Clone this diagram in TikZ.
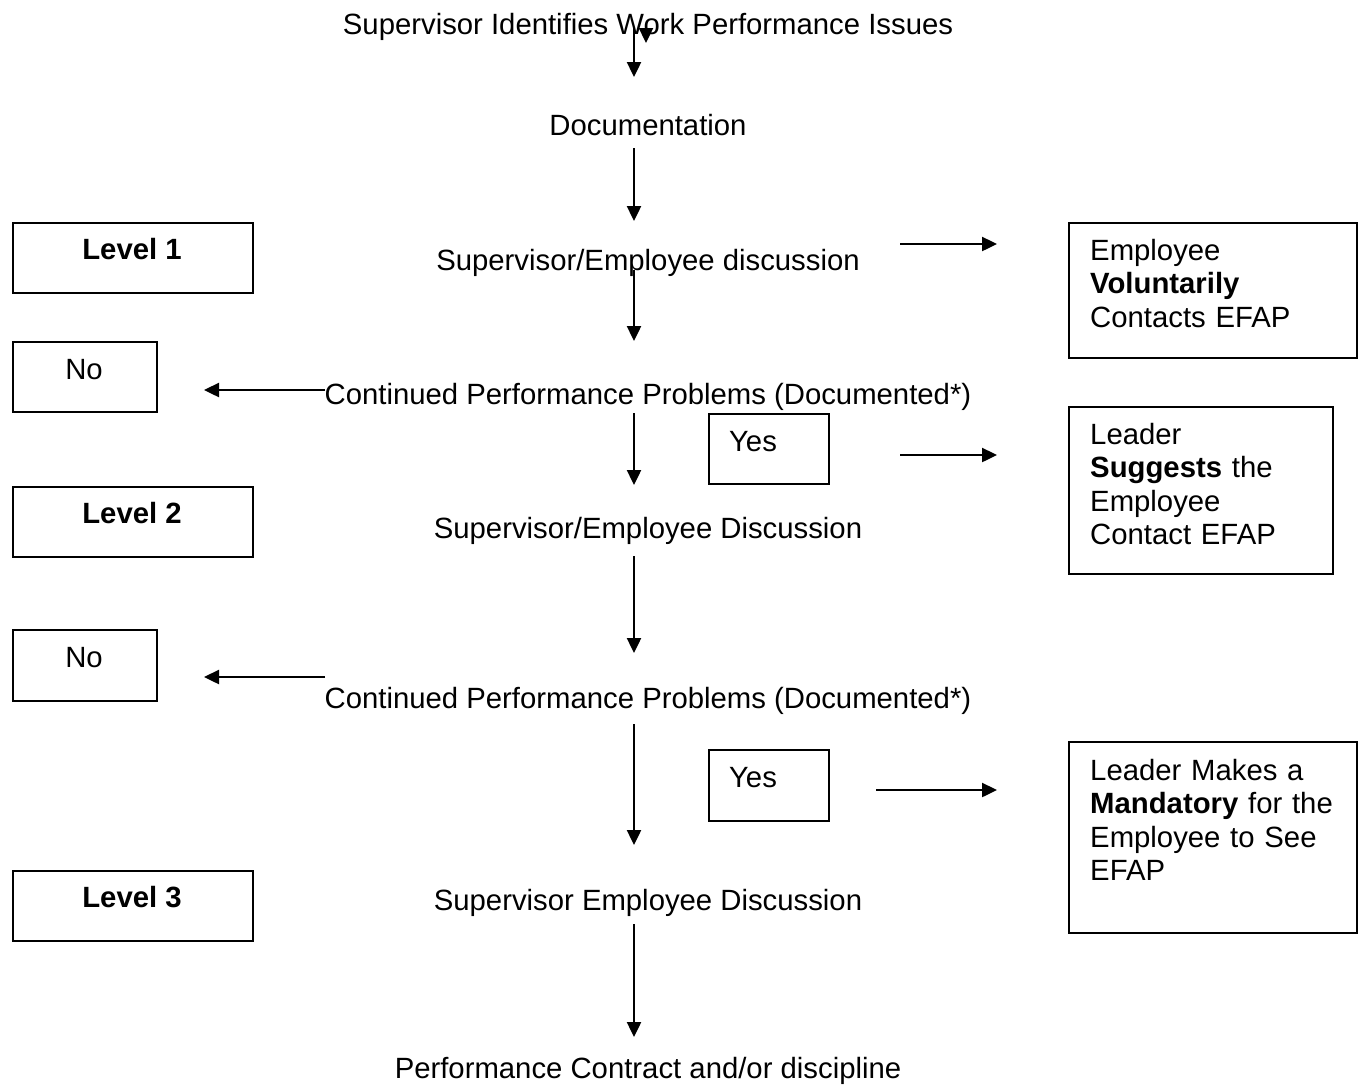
\documentclass[tikz,border=0pt]{standalone}
\usepackage{fontspec}
\setmainfont{Liberation Sans}
\usetikzlibrary{arrows.meta}
\begin{document}
\begin{tikzpicture}[x=1pt,y=-1pt,
  box/.style={draw, line width=1.6pt, inner sep=0pt, anchor=north west},
  lbl/.style={font=\fontsize{29.3}{33.5}\selectfont, inner sep=0pt, anchor=base},
  multi/.style={font=\fontsize{29.3}{33.5}\selectfont, inner sep=0pt, anchor=base west, text width=262pt, align=left},
  arr/.style={line width=2.4pt, -{Triangle[length=15pt,width=14pt]}}]
\useasboundingbox (0,0) rectangle (1362,1085);
% main column texts
\node[lbl] (t1) at (648,34) {Supervisor Identifies Work Performance Issues};
\node[lbl] (t2) at (648,135) {Documentation};
\node[lbl] (t3) at (648,270) {Supervisor/Employee discussion};
\node[lbl] (t4) at (648,404) {Continued Performance Problems (Documented*)};
\node[lbl] (t5) at (648,538) {Supervisor/Employee Discussion};
\node[lbl] (t6) at (648,708) {Continued Performance Problems (Documented*)};
\node[lbl] (t7) at (648,910) {Supervisor Employee Discussion};
\node[lbl] (t8) at (648,1078) {Performance Contract and/or discipline};
% level boxes
\node[box, minimum width=240pt, minimum height=70pt] (l1) at (12,222) {};
\node[lbl] (l1t) at (132,259) {\bfseries Level 1};
\node[box, minimum width=240pt, minimum height=70pt] (l2) at (12,486) {};
\node[lbl] (l2t) at (132,523) {\bfseries Level 2};
\node[box, minimum width=240pt, minimum height=70pt] (l3) at (12,870) {};
\node[lbl] (l3t) at (132,907) {\bfseries Level 3};
% no boxes
\node[box, minimum width=144pt, minimum height=70pt] (n1) at (12,341) {};
\node[lbl] (n1t) at (84,379) {No};
\node[box, minimum width=144pt, minimum height=71pt] (n2) at (12,629) {};
\node[lbl] (n2t) at (84,667) {No};
% yes boxes
\node[box, minimum width=120pt, minimum height=70pt] (y1) at (708,413) {};
\node[lbl] (y1t) at (753,451) {Yes};
\node[box, minimum width=120pt, minimum height=71pt] (y2) at (708,749) {};
\node[lbl] (y2t) at (753,787) {Yes};
% EFAP boxes
\node[box, minimum width=288pt, minimum height=135pt] (e1) at (1068,222) {};
\node[multi] (e1t) at (1090,260) {Employee\\\textbf{Voluntarily}\\Contacts EFAP};
\node[box, minimum width=264pt, minimum height=167pt] (e2) at (1068,406) {};
\node[multi] (e2t) at (1090,444) {Leader\\\textbf{Suggests} the\\Employee\\Contact EFAP};
\node[box, minimum width=288pt, minimum height=191pt] (e3) at (1068,741) {};
\node[multi] (e3t) at (1090,780) {Leader Makes a\\\textbf{Mandatory} for the\\Employee to See\\EFAP};
% connector end points
\coordinate (a0s) at (646,29); \coordinate (a0e) at (646,43);
\coordinate (a1s) at (634,28); \coordinate (a1e) at (634,77);
\coordinate (a2s) at (634,148); \coordinate (a2e) at (634,221);
\coordinate (a3s) at (634,270); \coordinate (a3e) at (634,341);
\coordinate (a4s) at (634,413); \coordinate (a4e) at (634,485);
\coordinate (a5s) at (634,556); \coordinate (a5e) at (634,653);
\coordinate (a6s) at (634,724); \coordinate (a6e) at (634,845);
\coordinate (a7s) at (634,924); \coordinate (a7e) at (634,1037);
\coordinate (r1s) at (900,244); \coordinate (r1e) at (997,244);
\coordinate (r2s) at (900,455); \coordinate (r2e) at (997,455);
\coordinate (r3s) at (876,790); \coordinate (r3e) at (997,790);
\coordinate (n1s) at (325,390); \coordinate (n1e) at (204,390);
\coordinate (n2s) at (325,677); \coordinate (n2e) at (204,677);
% arrows
\draw[arr] (a0s) -- (a0e);
\draw[arr] (a1s) -- (a1e);
\draw[arr] (a2s) -- (a2e);
\draw[arr] (a3s) -- (a3e);
\draw[arr] (a4s) -- (a4e);
\draw[arr] (a5s) -- (a5e);
\draw[arr] (a6s) -- (a6e);
\draw[arr] (a7s) -- (a7e);
\draw[arr] (r1s) -- (r1e);
\draw[arr] (r2s) -- (r2e);
\draw[arr] (r3s) -- (r3e);
\draw[arr] (n1s) -- (n1e);
\draw[arr] (n2s) -- (n2e);
\end{tikzpicture}
\end{document}
